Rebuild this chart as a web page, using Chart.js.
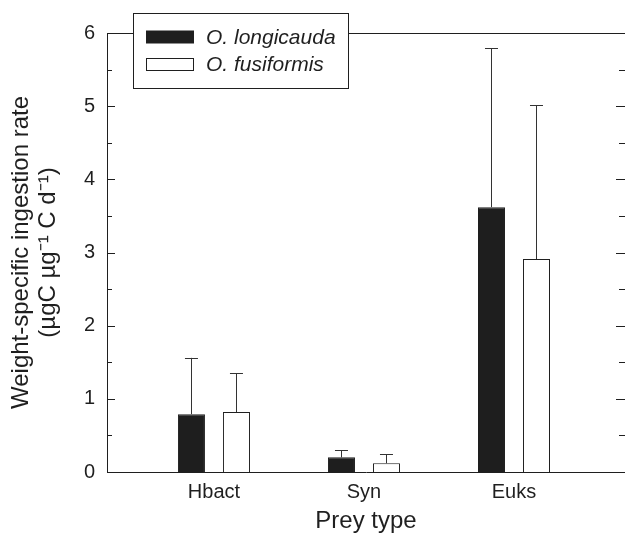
<!DOCTYPE html>
<html>
<head>
<meta charset="utf-8">
<script src="https://cdn.jsdelivr.net/npm/chart.js@4"></script>
<style>
  body { margin: 0; background: #fff; }
  #wrap { width: 625px; height: 533px; }
</style>
</head>
<body>
<div id="wrap"><canvas id="chart" width="625" height="533"></canvas></div>
<script>
// data
const preyTypes = ['Hbact', 'Syn', 'Euks']
const preyPos = [1, 2, 3]
const longicauda = [0.79, 0.20, 3.62]
const longicaudaErr = [0.77, 0.10, 2.17]
const fusiformis = [0.82, 0.12, 2.91]
const fusiformisErr = [0.53, 0.12, 2.10]
const yTicks = [0, 1, 2, 3, 4, 5, 6]

const ink = '#1f1f1f'
Chart.defaults.font.family = '"Liberation Sans", Arial, Helvetica, sans-serif'
Chart.defaults.color = ink

const toPoints = (vals) => vals.map((v, i) => ({x: preyPos[i], y: v}))

// error bars (upper only, with a cap)
const errorBars = {
  id: 'errorBars',
  afterDatasetsDraw(chart) {
    const ctx = chart.ctx
    const yScale = chart.scales.y
    chart.data.datasets.forEach((ds, di) => {
      const meta = chart.getDatasetMeta(di)
      meta.data.forEach((bar, i) => {
        const top = yScale.getPixelForValue(ds.data[i].y + ds.errors[i])
        ctx.save()
        ctx.strokeStyle = '#333'
        ctx.lineWidth = 1
        ctx.beginPath()
        ctx.moveTo(Math.round(bar.x) + 0.5, bar.y)
        ctx.lineTo(Math.round(bar.x) + 0.5, top)
        ctx.moveTo(bar.x - 6.5, Math.round(top) + 0.5)
        ctx.lineTo(bar.x + 6.5, Math.round(top) + 0.5)
        ctx.stroke()
        ctx.restore()
      })
    })
  }
}

// inward ticks left and right, top frame line, legend box
const frame = {
  id: 'frame',
  afterDraw(chart) {
    const ctx = chart.ctx
    const {left, right, top} = chart.chartArea
    const yScale = chart.scales.y
    ctx.save()
    ctx.strokeStyle = ink
    ctx.lineWidth = 1
    ctx.beginPath()
    ctx.moveTo(left, top + 0.5)
    ctx.lineTo(right, top + 0.5)
    for (let v = 0; v <= 6; v += 0.5) {
      const y = Math.round(yScale.getPixelForValue(v)) + 0.5
      const major = Number.isInteger(v)
      ctx.moveTo(left, y)
      ctx.lineTo(left + (major ? 8 : 5), y)
      ctx.moveTo(right, y)
      ctx.lineTo(right - (major ? 9 : 6), y)
    }
    ctx.stroke()

    // legend
    ctx.fillStyle = '#fff'
    ctx.fillRect(133.5, 13.5, 215, 75)
    ctx.strokeRect(133.5, 13.5, 215, 75)
    const rows = [37, 64.5]
    chart.data.datasets.forEach((ds, i) => {
      const y = rows[i]
      ctx.fillStyle = ds.backgroundColor
      ctx.fillRect(146.5, y - 6, 47, 12)
      ctx.strokeRect(146.5, y - 6, 47, 12)
      ctx.fillStyle = ink
      ctx.font = 'italic 21px "Liberation Sans", Arial, sans-serif'
      ctx.textBaseline = 'middle'
      ctx.textAlign = 'left'
      ctx.fillText(ds.label, 206, y + 1)
    })
    ctx.restore()
  }
}

new Chart(document.getElementById('chart'), {
  type: 'bar',
  data: {
    datasets: [
      {label: 'O. longicauda', data: toPoints(longicauda), errors: longicaudaErr,
        backgroundColor: '#1e1e1e', borderColor: ink, borderWidth: 1},
      {label: 'O. fusiformis', data: toPoints(fusiformis), errors: fusiformisErr,
        backgroundColor: '#ffffff', borderColor: ink, borderWidth: 1}
    ]
  },
  options: {
    responsive: false,
    devicePixelRatio: 1,
    animation: false,
    categoryPercentage: 0.6,
    barPercentage: 0.6,
    layout: {padding: {top: 33, right: 0, left: 0, bottom: 0}},
    plugins: {legend: {display: false}, tooltip: {enabled: false}},
    scales: {
      x: {
        type: 'linear',
        offset: false,
        min: 0.287,
        max: 3.74,
        grid: {display: false, drawTicks: false, offset: false},
        border: {display: true, color: ink, width: 1},
        afterBuildTicks: (scale) => { scale.ticks = preyPos.map(v => ({value: v})) },
        afterFit: (scale) => { scale.height = 61 },
        ticks: {
          padding: 8,
          font: {size: 20},
          color: ink,
          callback: (v) => preyTypes[preyPos.indexOf(v)] || ''
        },
        title: {
          display: true,
          text: 'Prey type',
          font: {size: 24, lineHeight: 1},
          color: ink,
          padding: {top: 0, bottom: 0}
        }
      },
      y: {
        min: 0,
        max: 6,
        grid: {display: false, drawTicks: false},
        border: {display: true, color: ink, width: 1},
        afterBuildTicks: (scale) => { scale.ticks = yTicks.map(v => ({value: v})) },
        afterFit: (scale) => { scale.width = 107 },
        ticks: {padding: 12, font: {size: 20}, color: ink},
        title: {
          display: true,
          text: ['Weight-specific ingestion rate', '(µgC µg⁻¹ C d⁻¹)'],
          font: {size: 24, lineHeight: 1.13},
          color: ink,
          padding: {top: 8, bottom: 0}
        }
      }
    }
  },
  plugins: [errorBars, frame]
})
</script>
</body>
</html>
